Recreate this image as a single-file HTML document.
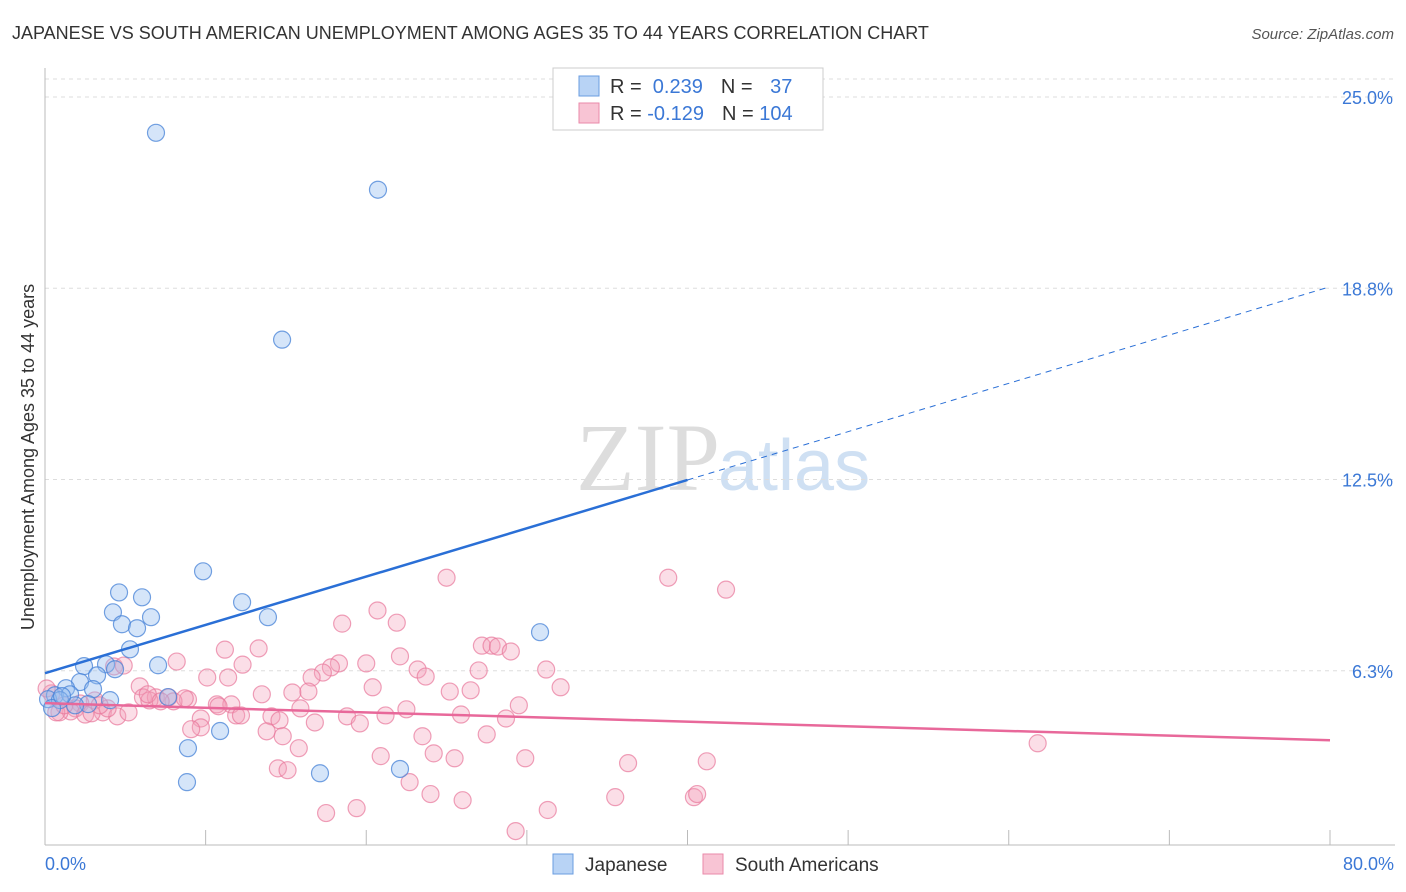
<!DOCTYPE html>
<html><head><meta charset="utf-8"><style>
body{margin:0;background:#fff;font-family:"Liberation Sans",sans-serif;}
</style></head><body>
<svg id="chart" width="1406" height="892" xmlns="http://www.w3.org/2000/svg" style="display:block">
<text x="12" y="39" font-size="18" fill="#333">JAPANESE VS SOUTH AMERICAN UNEMPLOYMENT AMONG AGES 35 TO 44 YEARS CORRELATION CHART</text>
<text x="1394" y="39" font-size="15" fill="#555" font-style="italic" text-anchor="end">Source: ZipAtlas.com</text>
<text x="720" y="490" font-size="96" fill="#ddd" font-family="Liberation Serif, serif" text-anchor="end">ZIP</text>
<text x="718" y="490" font-size="72" fill="#cfe0f3">atlas</text>
<g id="grid"></g>
<g id="axes"></g>
<g id="pts"></g>
<g id="lines"></g>
<text transform="translate(34,457) rotate(-90)" font-size="18" fill="#333" text-anchor="middle">Unemployment Among Ages 35 to 44 years</text>
<text x="45" y="870" font-size="18" fill="#3b78d6">0.0%</text>
<text x="1394" y="870" font-size="18" fill="#3b78d6" text-anchor="end">80.0%</text>
<g>
<rect x="553" y="68" width="270" height="62" fill="#fff" stroke="#ccc"/>
<rect x="579" y="76" width="20" height="20" fill="#b8d3f5" stroke="#6a9de0"/>
<rect x="579" y="103" width="20" height="20" fill="#f8c4d4" stroke="#ea8aaa"/>
<text x="610" y="93" font-size="20" fill="#333">R = <tspan fill="#3b78d6">&#160;0.239</tspan><tspan dx="18">N = </tspan><tspan fill="#3b78d6" dx="12">37</tspan></text>
<text x="610" y="120" font-size="20" fill="#333">R = <tspan fill="#3b78d6">-0.129</tspan><tspan dx="18">N = </tspan><tspan fill="#3b78d6">104</tspan></text>
</g>
<g><rect x="553" y="854" width="20" height="20" fill="#b8d3f5" stroke="#6a9de0"/><text x="585" y="871" font-size="19" fill="#333">Japanese</text></g>
<g><rect x="703" y="854" width="20" height="20" fill="#f8c4d4" stroke="#ea8aaa"/><text x="735" y="871" font-size="19" fill="#333">South Americans</text></g>
</svg>
<script>
const yTicks=[6.25,12.5,18.75,25];
const yTickLabels=["6.3%","12.5%","18.8%","25.0%"];
const xTicks=[0,10,20,30,40,50,60,70,80];
const japX=[6.91,20.73,14.76,9.84,4.61,6.04,4.23,6.60,4.79,5.73,12.27,13.88,5.29,7.04,2.43,3.80,4.36,3.24,2.18,2.99,1.31,0.62,1.56,0.19,0.93,0.44,2.68,7.66,10.90,8.90,8.84,17.12,22.10,30.82,1.87,1.06,4.05];
const japY=[23.83,21.97,17.07,9.50,8.81,8.65,8.16,8.00,7.77,7.64,8.49,8.00,6.95,6.43,6.40,6.46,6.30,6.10,5.88,5.65,5.68,5.45,5.48,5.32,5.29,5.03,5.16,5.39,4.28,3.72,2.61,2.90,3.04,7.51,5.12,5.42,5.29];
const saX=[25.0,38.8,42.4,20.7,18.5,21.9,27.2,27.8,28.2,29.0,13.3,11.2,8.2,12.3,18.3,17.8,20.0,17.3,23.2,22.1,27.0,31.2,10.1,11.4,16.6,23.7,32.1,5.9,4.3,4.9,20.4,15.4,16.4,25.2,26.5,13.5,6.1,6.9,7.7,8.9,6.5,8.0,6.4,8.7,10.7,11.6,10.8,15.9,22.5,29.5,3.1,2.2,1.9,1.6,0.9,2.5,3.6,4.5,5.2,3.9,2.9,11.9,14.1,18.8,21.2,25.9,28.7,9.7,12.2,14.6,16.8,19.6,9.7,9.1,13.8,14.8,27.5,23.5,15.8,20.9,24.2,25.5,29.9,14.5,15.1,22.7,24.0,26.0,31.3,35.5,36.3,41.2,40.4,40.6,19.4,17.5,29.3,61.8,0.4,0.7,1.2,3.4,7.2,0.1];
const saY=[9.29,9.29,8.90,8.22,7.79,7.82,7.07,7.07,7.04,6.88,6.98,6.94,6.55,6.45,6.49,6.36,6.49,6.19,6.29,6.72,6.26,6.29,6.03,6.03,6.03,6.06,5.71,5.74,6.39,6.42,5.71,5.54,5.57,5.57,5.61,5.48,5.38,5.38,5.38,5.31,5.28,5.25,5.48,5.35,5.15,5.15,5.09,5.02,4.99,5.12,5.28,5.18,5.02,4.92,4.89,4.82,4.89,4.76,4.89,5.02,4.86,4.79,4.76,4.76,4.79,4.82,4.69,4.69,4.79,4.63,4.56,4.53,4.40,4.34,4.27,4.11,4.17,4.11,3.72,3.46,3.55,3.39,3.39,3.06,3.00,2.61,2.22,2.02,1.70,2.12,3.23,3.29,2.12,2.22,1.76,1.60,1.01,3.88,5.51,4.89,5.12,5.12,5.25,5.67];
const japLine=[6.17,18.80];
const saLine=[5.19,3.98];
const NS="http://www.w3.org/2000/svg";
const X=v=>45+v/80*1285;
const Y=v=>862-v/25*765;
function mk(t,a,p){const e=document.createElementNS(NS,t);for(const k in a)e.setAttribute(k,a[k]);p.appendChild(e);return e;}
const grid=document.getElementById('grid');
mk('line',{x1:45,x2:1395,y1:79,y2:79,stroke:'#ddd','stroke-dasharray':'4,4'},grid);
yTicks.forEach((t,i)=>{
const l=mk('line',{x1:45,x2:1395,y1:Y(t),y2:Y(t),stroke:'#ddd','stroke-dasharray':'4,4'},grid);


const tx=mk('text',{x:1393,y:Y(t)+7,'font-size':18,fill:'#3b78d6','text-anchor':'end'},grid);
tx.textContent=yTickLabels[i];


});
const ax=document.getElementById('axes');
mk('line',{x1:45,x2:45,y1:68,y2:845,stroke:'#bbb'},ax);
mk('line',{x1:45,x2:1395,y1:845,y2:845,stroke:'#bbb'},ax);
xTicks.forEach(t=>{
const l=mk('line',{x1:X(t),x2:X(t),y1:830,y2:845,stroke:'#bbb'},ax);


});
const pts=document.getElementById('pts');
saX.forEach((x,i)=>{
const c=mk('circle',{cx:X(x),cy:Y(saY[i]),r:8.5,fill:'rgba(244,160,186,0.35)',stroke:'rgba(232,120,155,0.7)','stroke-width':1.2},pts);


});
japX.forEach((x,i)=>{
const c=mk('circle',{cx:X(x),cy:Y(japY[i]),r:8.5,fill:'rgba(150,190,240,0.4)',stroke:'rgba(70,130,215,0.75)','stroke-width':1.2},pts);


});
const ln=document.getElementById('lines');
const jy=x=>japLine[0]+(japLine[1]-japLine[0])*x/80;
let l1=mk('line',{x1:X(0),y1:Y(jy(0)),x2:X(40),y2:Y(jy(40)),stroke:'#2a6fd6','stroke-width':2.5},ln);


let l2=mk('line',{x1:X(40),y1:Y(jy(40)),x2:X(80),y2:Y(jy(80)),stroke:'#2a6fd6','stroke-width':1,'stroke-dasharray':'6,5'},ln);


let l3=mk('line',{x1:X(0),y1:Y(saLine[0]),x2:X(80),y2:Y(saLine[1]),stroke:'#e8689a','stroke-width':2.5},ln);


</script>
</body></html>
